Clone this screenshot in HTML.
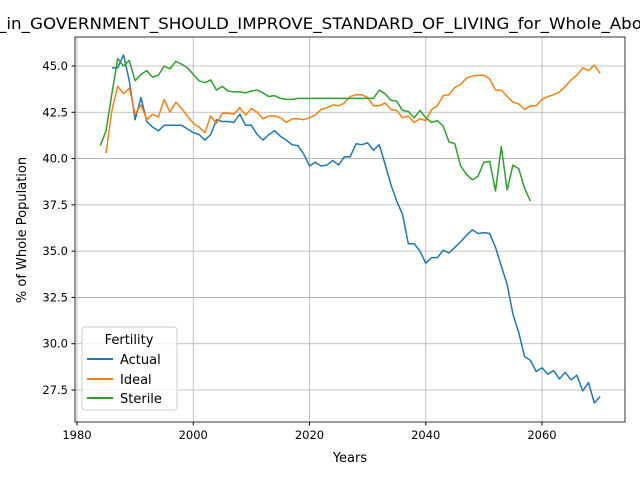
<!DOCTYPE html>
<html><head><meta charset="utf-8"><style>
body{margin:0;background:#fff}
svg text{font-family:"DejaVu Sans","Liberation Sans",sans-serif;fill:#000}
</style></head><body>
<svg id="chart" width="640" height="480" xmlns="http://www.w3.org/2000/svg">
<rect width="640" height="480" fill="#fff"/>
<g id="grid"></g><g id="series"></g><g id="axes"></g>
<text x="-2" y="29" font-size="16" textLength="644" lengthAdjust="spacingAndGlyphs">_in_GOVERNMENT_SHOULD_IMPROVE_STANDARD_OF_LIVING_for_Whole_Abo</text>
<text x="350" y="462" font-size="13" text-anchor="middle">Years</text>
<text transform="translate(26,230) rotate(-90)" font-size="13" text-anchor="middle">% of Whole Population</text>
<g>
<rect x="82" y="327" width="95" height="83" rx="3" fill="#fff" fill-opacity="0.8" stroke="#ccc"/>
<text x="129" y="344" font-size="13" text-anchor="middle">Fertility</text>
<g><line x1="87" x2="113" y1="359" y2="359" stroke="#1f77b4" stroke-width="2"/><text x="120" y="364" font-size="13">Actual</text></g>
<g><line x1="87" x2="113" y1="379" y2="379" stroke="#ff7f0e" stroke-width="2"/><text x="120" y="384" font-size="13">Ideal</text></g>
<g><line x1="87" x2="113" y1="398" y2="398" stroke="#2ca02c" stroke-width="2"/><text x="120" y="403" font-size="13">Sterile</text></g>
</g>
</svg>
<script>
const actualStart = 1986;
const actualValues = [44.9,44.9,45.6,44.2,42.1,43.3,42.0,41.7,41.5,41.8,41.8,41.8,41.8,41.6,41.4,41.3,41.0,41.3,42.1,42.0,42.0,41.95,42.4,41.8,41.8,41.3,41.0,41.3,41.5,41.2,41.0,40.75,40.7,40.25,39.6,39.8,39.6,39.65,39.9,39.65,40.1,40.1,40.8,40.75,40.85,40.45,40.75,39.7,38.6,37.7,37.0,35.4,35.4,35.0,34.35,34.65,34.65,35.05,34.9,35.2,35.5,35.85,36.15,35.95,36.0,35.95,35.2,34.2,33.2,31.6,30.6,29.3,29.1,28.5,28.7,28.35,28.55,28.1,28.45,28.05,28.3,27.45,27.9,26.8,27.15];
const idealStart = 1985;
const idealValues = [40.3,42.6,43.9,43.5,43.8,42.4,42.9,42.1,42.4,42.25,43.2,42.5,43.05,42.7,42.3,41.9,41.7,41.4,42.3,41.9,42.45,42.45,42.4,42.75,42.35,42.7,42.5,42.15,42.3,42.3,42.2,41.95,42.15,42.15,42.1,42.2,42.35,42.65,42.75,42.9,42.85,43.0,43.35,43.45,43.45,43.3,42.85,42.85,43.0,42.65,42.6,42.2,42.3,41.95,42.15,42.05,42.65,42.85,43.4,43.45,43.85,44.0,44.35,44.45,44.5,44.5,44.3,43.7,43.7,43.35,43.05,42.95,42.65,42.85,42.85,43.2,43.35,43.45,43.6,43.9,44.25,44.5,44.9,44.75,45.05,44.6];
const sterileStart = 1984;
const sterileValues = [40.7,41.5,43.5,45.4,45.0,45.3,44.2,44.55,44.75,44.4,44.5,45.0,44.85,45.25,45.1,44.9,44.55,44.2,44.1,44.25,43.7,43.9,43.65,43.6,43.6,43.55,43.65,43.7,43.55,43.35,43.4,43.25,43.2,43.2,43.25,43.25,43.25,43.25,43.25,43.25,43.25,43.25,43.25,43.25,43.25,43.25,43.25,43.25,43.7,43.5,43.15,43.1,42.6,42.55,42.2,42.6,42.2,41.95,42.05,41.75,40.9,40.8,39.6,39.15,38.85,39.05,39.8,39.85,38.25,40.65,38.3,39.65,39.45,38.4,37.7];
const xTicks = [1980,2000,2020,2040,2060];
const yTicks = [27.5,30.0,32.5,35.0,37.5,40.0,42.5,45.0];

const L=75,R=625,T=37,B=422;
const xs = v => 77 + (v-1980)*(542-77)/80;
const ys = v => 66 + (45-v)*(390-66)/17.5;
const NS="http://www.w3.org/2000/svg";
function mk(tag,parent){const e=document.createElementNS(NS,tag);document.getElementById(parent).appendChild(e);return e;}

xTicks.forEach(t=>{
  const g=mk('line','grid');
  
  
  g.setAttribute('x1',xs(t));g.setAttribute('x2',xs(t));g.setAttribute('y1',T);g.setAttribute('y2',B);g.setAttribute('stroke','#b0b0b0');g.setAttribute('stroke-width','0.8');
  const tk=mk('line','axes');tk.setAttribute('x1',xs(t));tk.setAttribute('x2',xs(t));tk.setAttribute('y1',B);tk.setAttribute('y2',B+3.5);tk.setAttribute('stroke','#000');
  const tx=mk('text','axes');
  
  
  tx.setAttribute('x',xs(t));tx.setAttribute('y',B+17);tx.setAttribute('font-size','11.5');tx.setAttribute('text-anchor','middle');tx.textContent=t;
});
yTicks.forEach(t=>{
  const g=mk('line','grid');
  
  
  g.setAttribute('x1',L);g.setAttribute('x2',R);g.setAttribute('y1',ys(t));g.setAttribute('y2',ys(t));g.setAttribute('stroke','#b0b0b0');g.setAttribute('stroke-width','0.8');
  const tk=mk('line','axes');tk.setAttribute('x1',L-3.5);tk.setAttribute('x2',L);tk.setAttribute('y1',ys(t));tk.setAttribute('y2',ys(t));tk.setAttribute('stroke','#000');
  const tx=mk('text','axes');
  
  
  tx.setAttribute('x',L-7);tx.setAttribute('y',ys(t)+4);tx.setAttribute('font-size','11.5');tx.setAttribute('text-anchor','end');tx.textContent=t.toFixed(1);
});
const fr=mk('rect','axes');


fr.setAttribute('x',L);fr.setAttribute('y',T);fr.setAttribute('width',R-L);fr.setAttribute('height',B-T);fr.setAttribute('fill','none');fr.setAttribute('stroke','#000');fr.setAttribute('stroke-width','0.8');

function drawLine(start,vals,color,name){
  const p=mk('polyline','series');
  
  
  p.setAttribute('points',vals.map((v,i)=>xs(start+i).toFixed(2)+','+ys(v).toFixed(2)).join(' '));
  p.setAttribute('fill','none');p.setAttribute('stroke',color);p.setAttribute('stroke-width','1.5');p.setAttribute('stroke-linejoin','round');
}
drawLine(actualStart,actualValues,'#1f77b4','actual-line');
drawLine(idealStart,idealValues,'#ff7f0e','ideal-line');
drawLine(sterileStart,sterileValues,'#2ca02c','sterile-line');
</script>
</body></html>
